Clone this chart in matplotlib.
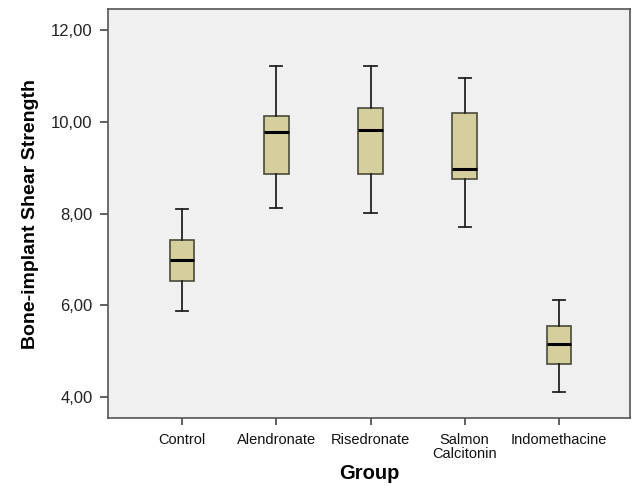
import matplotlib.pyplot as plt
from matplotlib.ticker import FuncFormatter

plt.rcParams['font.family'] = ['Liberation Sans', 'DejaVu Sans']

groups = ["Control", "Alendronate", "Risedronate", "Salmon\nCalcitonin", "Indomethacine"]
whisker_low = [5.87, 8.12, 8.02, 7.70, 4.10]
q1 = [6.52, 8.87, 8.87, 8.75, 4.72]
median = [6.98, 9.77, 9.83, 8.98, 5.15]
q3 = [7.43, 10.12, 10.30, 10.19, 5.54]
whisker_high = [8.09, 11.22, 11.22, 10.96, 6.11]

stats = [
    dict(label=g, whislo=lo, q1=a, med=m, q3=b, whishi=hi, fliers=[])
    for g, lo, a, m, b, hi in zip(groups, whisker_low, q1, median, q3, whisker_high)
]

fig = plt.figure(figsize=(6.32, 4.86), dpi=100, facecolor="white")
ax = fig.add_axes([108 / 632, 1 - 418 / 486, 522 / 632, 409 / 486])
ax.set_facecolor("#f0f0f0")

positions = list(range(1, len(groups) + 1))
ax.bxp(
    stats,
    positions=positions,
    widths=0.26,
    capwidths=0.13,
    patch_artist=True,
    boxprops=dict(facecolor="#d4cf9c", edgecolor="#4a4a3a", linewidth=1.2),
    medianprops=dict(color="black", linewidth=2.2),
    whiskerprops=dict(color="#222222", linewidth=1.3),
    capprops=dict(color="#222222", linewidth=1.3),
    showfliers=False,
)

ax.set_xlim(0.213, 5.755)
ax.set_ylim(3.54, 12.46)
ax.set_yticks([4, 6, 8, 10, 12])
ax.yaxis.set_major_formatter(FuncFormatter(lambda v, p: f"{v:.2f}".replace(".", ",")))
ax.set_xticks(positions)
ax.set_xticklabels(groups, fontsize=10.5, linespacing=0.95)

for s in ax.spines.values():
    s.set_color("#555555")
    s.set_linewidth(1.2)
ax.tick_params(axis="y", labelsize=12, length=6, width=1.2, color="#444444", pad=5, labelcolor="#222222")
ax.tick_params(axis="x", length=5, width=1.2, color="#444444", pad=6, labelcolor="#111111")

ax.set_ylabel("Bone-implant Shear Strength", fontsize=14, fontweight="bold", labelpad=9)
ax.set_xlabel("Group", fontsize=14.5, fontweight="bold", labelpad=2)

fig.savefig("out.png", dpi=100, facecolor="white")
